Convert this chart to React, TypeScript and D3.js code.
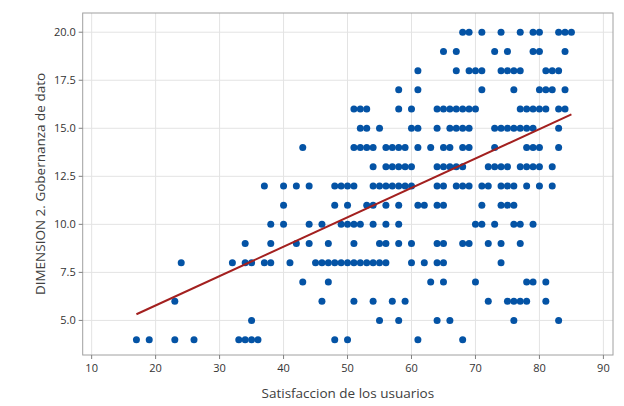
import React from "react";
import * as d3 from "d3";

// Satisfaccion de los usuarios values, grouped by DIMENSION 2 score
const g4 = [17, 19, 23, 26, 33, 34, 35, 36, 48, 50, 61, 68];
const g5 = [35, 55, 58, 64, 66, 76, 83];
const g6 = [23, 46, 51, 54, 57, 59, 72, 75, 76, 77, 78, 81];
const g7 = [43, 47, 63, 65, 70, 78, 79, 81];
const g8 = [24, 32, 34, 35, 37, 38, 41, 45, 46, 47, 48, 49, 50, 51, 52, 53, 54, 55, 56, 60, 62, 64, 65, 74];
const g9 = [34, 38, 42, 44, 47, 51, 55, 56, 58, 60, 64, 65, 68, 69, 72, 74, 77];
const g10 = [38, 40, 44, 46, 49, 50, 51, 52, 54, 56, 58, 70, 71, 73, 76, 77, 79];
const g11 = [40, 48, 50, 53, 54, 56, 58, 61, 62, 64, 65, 71, 74, 75, 76];
const g12 = [37, 40, 42, 44, 48, 49, 50, 51, 54, 55, 56, 57, 58, 59, 60, 64, 65, 67, 68, 69, 71, 72, 74, 75, 76, 78, 80, 82];
const g13 = [54, 56, 57, 58, 59, 60, 64, 65, 66, 67, 68, 72, 73, 74, 75, 77, 78, 79, 80, 82];
const g14 = [43, 51, 52, 53, 54, 56, 57, 58, 59, 61, 63, 65, 66, 68, 69, 73, 78, 79, 80, 83];
const g15 = [52, 53, 55, 60, 61, 64, 66, 67, 68, 69, 73, 74, 75, 76, 77, 78, 79, 83];
const g16 = [51, 52, 53, 58, 60, 64, 65, 66, 67, 68, 69, 70, 77, 78, 79, 80, 81, 83, 84];
const g17 = [58, 61, 71, 76, 80, 81, 82, 84];
const g18 = [61, 67, 69, 70, 71, 74, 75, 76, 77, 81, 82, 83];
const g19 = [65, 67, 73, 75, 79, 80, 84];
const g20 = [68, 69, 71, 74, 77, 79, 80, 83, 84, 85];

const groupLevels = [4, 5, 6, 7, 8, 9, 10, 11, 12, 13, 14, 15, 16, 17, 18, 19, 20];
const groupValues = [g4, g5, g6, g7, g8, g9, g10, g11, g12, g13, g14, g15, g16, g17, g18, g19, g20];

// fitted regression line (as shown in the reference)
const fitX = [17, 85];
const fitY = [5.32, 15.72];

const xTicks = [10, 20, 30, 40, 50, 60, 70, 80, 90];
const yTicks = [5, 7.5, 10, 12.5, 15, 17.5, 20];

const xTitle = "Satisfaccion de los usuarios";
const yTitle = "DIMENSION 2. Gobernanza de dato";

const W = 624;
const H = 406;
const L = 82.7;
const R = 613;
const T = 13;
const B = 355;

const FONT = "'Segoe UI', 'Open Sans', 'Noto Sans', sans-serif";

export default function App() {
  const points: { x: number; y: number }[] = [];
  groupLevels.forEach((lv, i) => groupValues[i].forEach((v) => points.push({ x: v, y: lv })));

  const x = d3.scaleLinear().domain([8.6, 91.5]).range([L, R]);
  const y = d3.scaleLinear().domain([3.2, 21.0]).range([B, T]);

  const fit = fitX.map((v, i) => ({ x: v, y: fitY[i] }));
  const line = d3
    .line<{ x: number; y: number }>()
    .x((d) => x(d.x))
    .y((d) => y(d.y));

  return (
    <svg
      width={W}
      height={H}
      style={{ position: "absolute", left: 0, top: 0, background: "#fff" }}
      fontFamily={FONT}
    >
      <rect x={0} y={0} width={W} height={H} fill="#fff" />
      {/* gridlines */}
      {xTicks.map((t) => (
        <line key={"gx" + t} x1={x(t)} x2={x(t)} y1={T} y2={B} stroke="#e3e3e3" strokeWidth={1} />
      ))}
      {yTicks.map((t) => (
        <line key={"gy" + t} x1={L} x2={R} y1={y(t)} y2={y(t)} stroke="#e3e3e3" strokeWidth={1} />
      ))}
      {/* frame */}
      <rect x={L} y={T} width={R - L} height={B - T} fill="none" stroke="#a0a0a0" strokeWidth={1} />
      {/* ticks */}
      {xTicks.map((t) => (
        <g key={"tx" + t}>
          <line x1={x(t)} x2={x(t)} y1={B} y2={B + 4} stroke="#808080" />
          <text x={x(t)} y={B + 17} textAnchor="middle" fontSize={11} fill="#333">
            {t}
          </text>
        </g>
      ))}
      {yTicks.map((t) => (
        <g key={"ty" + t}>
          <line x1={L - 4} x2={L} y1={y(t)} y2={y(t)} stroke="#808080" />
          <text x={L - 7} y={y(t) + 4} textAnchor="end" fontSize={11} fill="#333">
            {t.toFixed(1)}
          </text>
        </g>
      ))}
      {/* points */}
      {points.map((p, i) => (
        <circle key={i} cx={x(p.x)} cy={y(p.y)} r={3.5} fill="#0453a5" />
      ))}
      {/* fit line */}
      <path d={line(fit) || ""} fill="none" stroke="#a3201f" strokeWidth={2} />
      {/* titles */}
      <text x={(L + R) / 2} y={398} textAnchor="middle" fontSize={13.5} fill="#404040">
        {xTitle}
      </text>
      <text
        transform={`translate(45,${(T + B) / 2}) rotate(-90)`}
        textAnchor="middle"
        fontSize={13.5}
        fill="#404040"
      >
        {yTitle}
      </text>
    </svg>
  );
}
